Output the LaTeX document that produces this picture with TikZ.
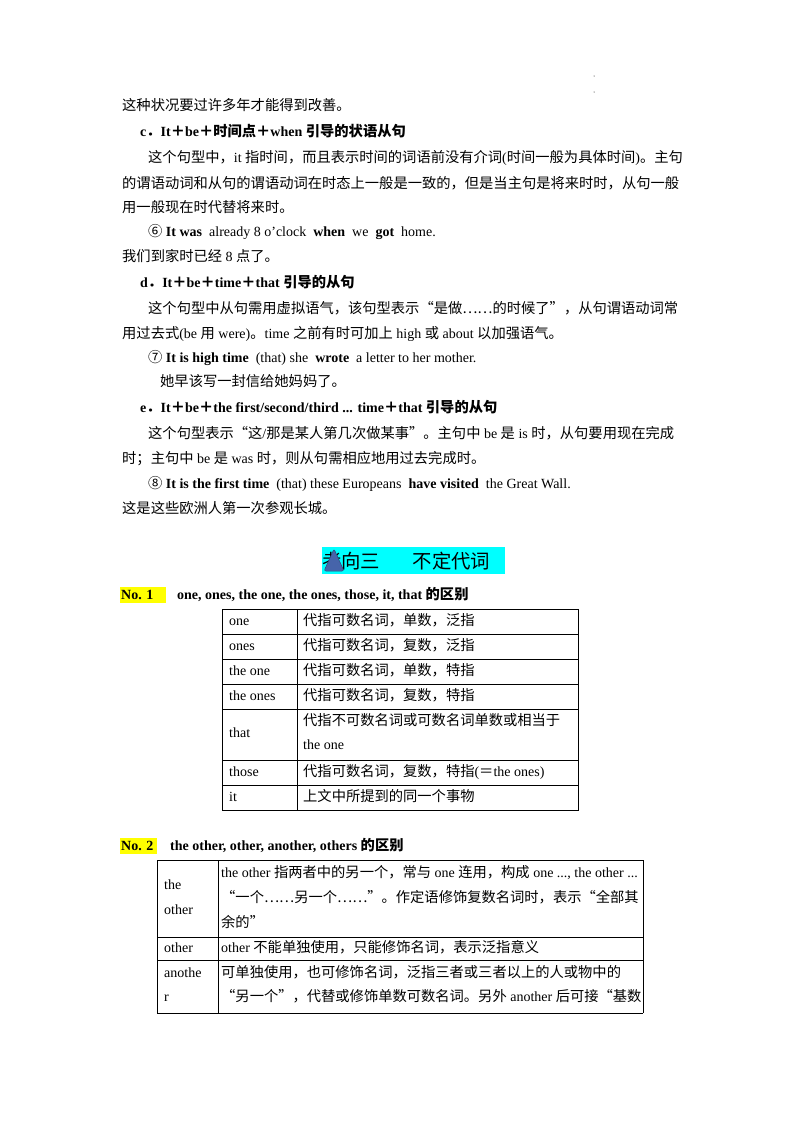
\documentclass[tikz,border=0pt]{standalone}
\usepackage{fontspec}
\setmainfont{Liberation Serif}
\newfontfamily\cjk{Noto Sans CJK SC}[Scale=1.02]
\XeTeXinterchartokenstate=1
\newXeTeXintercharclass\zhclass
\count255="4E00
\loop\XeTeXcharclass\count255=\zhclass\advance\count255 1 \ifnum\count255<"A000 \repeat
\count255="3000
\loop\XeTeXcharclass\count255=\zhclass\advance\count255 1 \ifnum\count255<"3040 \repeat
\count255="FF00
\loop\XeTeXcharclass\count255=\zhclass\advance\count255 1 \ifnum\count255<"FF70 \repeat
\count255="2460
\loop\XeTeXcharclass\count255=\zhclass\advance\count255 1 \ifnum\count255<"2474 \repeat
\XeTeXcharclass"201C=\zhclass \XeTeXcharclass"201D=\zhclass \XeTeXcharclass"2026=\zhclass
\XeTeXinterchartoks 0 \zhclass={\cjk}
\XeTeXinterchartoks 4095 \zhclass={\cjk}
\XeTeXinterchartoks \zhclass 0={\rmfamily}
\XeTeXinterchartoks \zhclass 4095={\rmfamily}
\definecolor{hl}{RGB}{255,255,0}
\definecolor{tcyan}{RGB}{0,255,255}
\definecolor{tri}{RGB}{70,100,170}
\begin{document}
\begin{tikzpicture}[x=1pt,y=-1pt,
  t/.style={anchor=base west,inner sep=0pt,font=\fontsize{14}{16}\selectfont},
  tb/.style={t,font=\fontsize{14}{16}\selectfont\bfseries},
  ln/.style={line width=0.6pt}]
\useasboundingbox (0,0) rectangle (800,1132);
\fill (594,76) circle (0.5) (594,92) circle (0.5);
\node[t] (l1) at (122,110) {这种状况要过许多年才能得到改善。};
\node[tb] (hc) at (140,136) {c．It＋be＋时间点＋when 引导的状语从句};
\node[t] (p1) at (148,162) {这个句型中，it 指时间，而且表示时间的词语前没有介词(时间一般为具体时间)。主句};
\node[t] (p2) at (122,188) {的谓语动词和从句的谓语动词在时态上一般是一致的，但是当主句是将来时时，从句一般};
\node[t] (p3) at (122,212) {用一般现在时代替将来时。};
\node[t] (e6) at (148,236) {⑥ \textbf{It was}\ \ already 8 o'clock\ \ \textbf{when}\ \ we\ \ \textbf{got}\ \ home.};
\node[t] (z6) at (122,261) {我们到家时已经 8 点了。};
\node[tb] (hd) at (140,287) {d．It＋be＋time＋that 引导的从句};
\node[t] (q1) at (148,313) {这个句型中从句需用虚拟语气，该句型表示“是做……的时候了”，从句谓语动词常};
\node[t] (q2) at (122,338) {用过去式(be 用 were)。time 之前有时可加上 high 或 about 以加强语气。};
\node[t] (e7) at (148,362) {⑦ \textbf{It is high time}\ \ (that) she\ \ \textbf{wrote}\ \ a letter to her mother.};
\node[t] (z7) at (160,386) {她早该写一封信给她妈妈了。};
\node[tb] (he) at (140,412) {e．It＋be＋the first/second/third ... time＋that 引导的从句};
\node[t] (r1) at (148,438) {这个句型表示“这/那是某人第几次做某事”。主句中 be 是 is 时，从句要用现在完成};
\node[t] (r2) at (122,463) {时；主句中 be 是 was 时，则从句需相应地用过去完成时。};
\node[t] (e8) at (148,488) {⑧ \textbf{It is the first time}\ \ (that) these Europeans\ \ \textbf{have visited}\ \ the Great Wall.};
\node[t] (z8) at (122,513) {这是这些欧洲人第一次参观长城。};
% title
\fill[tcyan] (322,547) rectangle (505,574);
\node[anchor=base west,inner sep=0pt,font=\fontsize{19}{24}\selectfont] (title) at (322,568) {考向三\hspace{1.7em}不定代词};
\fill[tri,draw=tri!70!black,line width=0.5pt,rounded corners=2pt] (324,571) -- (334,549) -- (344,571) -- cycle;
% No.1
\fill[hl] (120,587) rectangle (166,603);
\node[tb] (n1) at (121,599) {No. 1};
\node[tb] (n1t) at (177,599) {one, ones, the one, the ones, those, it, that 的区别};
\draw[ln] (222,609) rectangle (578,810);
\draw[ln] (297,609) -- (297,810);
\foreach \y in {634,659,684,709,760,785} \draw[ln] (222,\y) -- (578,\y);
\node[t] (a1) at (229,625) {one};      \node[t] (b1) at (303,625) {代指可数名词，单数，泛指};
\node[t] (a2) at (229,650) {ones};     \node[t] (b2) at (303,650) {代指可数名词，复数，泛指};
\node[t] (a3) at (229,675) {the one};  \node[t] (b3) at (303,675) {代指可数名词，单数，特指};
\node[t] (a4) at (229,700) {the ones}; \node[t] (b4) at (303,700) {代指可数名词，复数，特指};
\node[t] (a5) at (229,737) {that};     \node[t] (b5) at (303,725) {代指不可数名词或可数名词单数或相当于};
\node[t] (b5b) at (303,749) {the one};
\node[t] (a6) at (229,776) {those};    \node[t] (b6) at (303,776) {代指可数名词，复数，特指(＝the ones)};
\node[t] (a7) at (229,801) {it};       \node[t] (b7) at (303,801) {上文中所提到的同一个事物};
% No.2
\fill[hl] (120,838) rectangle (157,854);
\node[tb] (n2) at (121,850) {No. 2};
\node[tb] (n2t) at (170,850) {the other, other, another, others 的区别};
\draw[ln] (157,860) -- (643,860) (157,937) -- (643,937) (157,960) -- (643,960) (157,1013) -- (643,1013);
\draw[ln] (157,860) -- (157,1013) (218,860) -- (218,1013) (643,860) -- (643,1013);
\node[t] (c1) at (164,889) {the};
\node[t] (c1b) at (164,914) {other};
\node[t] (d1) at (221,877) {the other 指两者中的另一个，常与 one 连用，构成 one ..., the other ...};
\node[t] (d1b) at (221,902) {“一个……另一个……”。作定语修饰复数名词时，表示“全部其};
\node[t] (d1c) at (221,927) {余的”};
\node[t] (c2) at (164,952) {other};
\node[t] (d2) at (221,952) {other 不能单独使用，只能修饰名词，表示泛指意义};
\node[t] (c3) at (164,977) {anothe};
\node[t] (c3b) at (164,1001) {r};
\node[t] (d3) at (221,977) {可单独使用，也可修饰名词，泛指三者或三者以上的人或物中的};
\node[t] (d3b) at (221,1001) {“另一个”，代替或修饰单数可数名词。另外 another 后可接“基数};
\end{tikzpicture}
\end{document}
